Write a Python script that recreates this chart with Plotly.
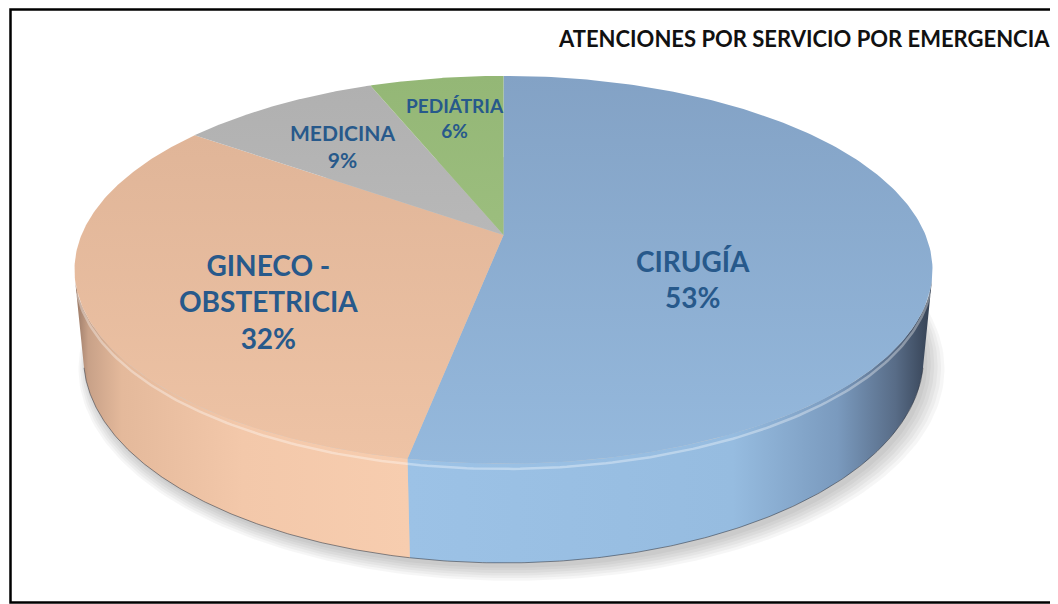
import numpy as np
import plotly.graph_objects as go

# ---- data ----
categories = ["CIRUGÍA", "GINECO - OBSTETRICIA", "MEDICINA", "PEDIÁTRIA"]
values = [53, 32, 9, 6]
chart_title = "ATENCIONES POR SERVICIO POR EMERGENCIA"

# ---- styling ----
top_grad = [  # vertical gradients for top faces
    [[0, "rgb(131,162,197)"], [1, "rgb(149,185,221)"]],
    [[0, "rgb(224,181,152)"], [1, "rgb(238,195,165)"]],
    [[0, "rgb(176,176,176)"], [1, "rgb(184,184,184)"]],
    [[0, "rgb(148,183,118)"], [1, "rgb(156,190,126)"]],
]
side_grad = {
    0: [[0, "rgb(156,194,230)"], [0.62, "rgb(150,188,224)"], [0.82, "rgb(122,154,190)"],
        [0.93, "rgb(88,108,135)"], [1, "rgb(52,64,82)"]],
    1: [[0, "rgb(150,118,100)"], [0.04, "rgb(200,161,136)"], [0.14, "rgb(228,185,155)"],
        [0.5, "rgb(243,200,170)"], [1, "rgb(247,205,175)"]],
}
label_color = "#27598B"
label_pos = [(693, 279), (268, 301), (342, 146), (455, 118)]
label_size = [28, 28, 21, 19]

# page body has an 8px margin: size the figure so axis units equal window pixels
OFF = 8
WIN_W, WIN_H = 1058, 604
W, H = WIN_W - OFF, WIN_H - OFF
cx, cy = 503.5, 235.0
alpha = np.radians(26.4)
s, c = np.sin(alpha), np.cos(alpha)
D, F, h = 4.99, 2106.0, 0.2334


def proj(X, Y, Z):
    X, Y, Z = np.asarray(X, float), np.asarray(Y, float), np.asarray(Z, float)
    Yc = Y * c + Z * s
    Zc = -Y * s + Z * c + D
    return cx + F * X / Zc, cy - F * Yc / Zc


def arc(a, b, Y, n=200, r=1.0):
    t = np.linspace(a, b, n)
    return proj(r * np.sin(t), np.full_like(t, Y), r * np.cos(t))


vals = np.array(values, float)
frac = vals / vals.sum()
ends = np.cumsum(frac) * 2 * np.pi
starts = ends - frac * 2 * np.pi

# silhouette angles of the cylinder wall
th_sil = np.arccos(-1.0 / (D * c))
th_r, th_l = th_sil, 2 * np.pi - th_sil

fig = go.Figure()

# soft shadow
for k in range(6):
    r = 1.0 + 0.006 * k
    t = np.linspace(0, 2 * np.pi, 300)
    x, y = proj(r * np.sin(t), np.full_like(t, -h), r * np.cos(t))
    fig.add_trace(go.Scatter(x=x + 4 + k * 0.8, y=y + 5 + k * 0.8, mode="lines",
                             line=dict(width=0), fill="toself",
                             fillcolor="rgba(0,0,0,0.035)", hoverinfo="skip",
                             showlegend=False))

# side walls
for i in range(len(vals)):
    a, b = max(starts[i], th_r), min(ends[i], th_l)
    if b <= a:
        continue
    xt, yt = arc(a, b, 0.0)
    xb, yb = arc(b, a, -h)
    xs = np.concatenate([xt, xb, xt[:1]])
    ys = np.concatenate([yt, yb, yt[:1]])
    fig.add_trace(go.Scatter(
        x=xs, y=ys, mode="lines", line=dict(width=0), fill="toself",
        fillgradient=dict(type="horizontal", colorscale=side_grad[i],
                          start=float(xs.min()), stop=float(xs.max())),
        hoverinfo="skip", showlegend=False))
    fig.add_trace(go.Scatter(x=xb, y=yb, mode="lines",
                             line=dict(width=1, color="rgba(50,55,65,0.55)"),
                             hoverinfo="skip", showlegend=False))

# top faces
x0, y0 = proj(0, 0, 0)
for i in range(len(vals)):
    xa, ya = arc(starts[i], ends[i], 0.0)
    xs = np.concatenate([[x0], xa, [x0]])
    ys = np.concatenate([[y0], ya, [y0]])
    fig.add_trace(go.Scatter(
        x=xs, y=ys, mode="lines", line=dict(width=0), fill="toself",
        fillgradient=dict(type="vertical", colorscale=top_grad[i],
                          start=float(ys.min()), stop=float(ys.max())),
        hoverinfo="skip", showlegend=False))

# bevel highlight on the front edge
xh, yh = arc(th_r + 0.05, th_l - 0.05, -0.012)
fig.add_trace(go.Scatter(x=xh, y=yh, mode="lines",
                         line=dict(width=2.5, color="rgba(255,255,255,0.35)"),
                         hoverinfo="skip", showlegend=False))

# labels
for i, cat in enumerate(categories):
    txt = cat.replace(" - ", " -<br>") + "<br>" + f"{round(frac[i] * 100):.0f}%"
    fig.add_annotation(x=label_pos[i][0], y=label_pos[i][1], text=txt,
                       showarrow=False, xanchor="center", yanchor="middle",
                       font=dict(family="Lato", size=label_size[i], color=label_color,
                                 weight=700))

fig.add_annotation(x=804, y=38, text=chart_title, showarrow=False,
                   xanchor="center", yanchor="middle",
                   font=dict(family="Lato", size=22, color="#111111", weight=700))

# frame
fig.add_shape(type="rect", x0=10.5, y0=9.6, x1=1070, y1=602.5, xref="x", yref="y",
              line=dict(color="black", width=2.5), fillcolor="rgba(0,0,0,0)")

fig.update_layout(width=W, height=H, autosize=False,
                  margin=dict(l=0, r=0, t=0, b=0),
                  paper_bgcolor="white", plot_bgcolor="white",
                  xaxis=dict(range=[OFF, WIN_W], visible=False, fixedrange=True),
                  yaxis=dict(range=[WIN_H, OFF], visible=False, fixedrange=True),
                  showlegend=False)

fig.write_html("out.html")
